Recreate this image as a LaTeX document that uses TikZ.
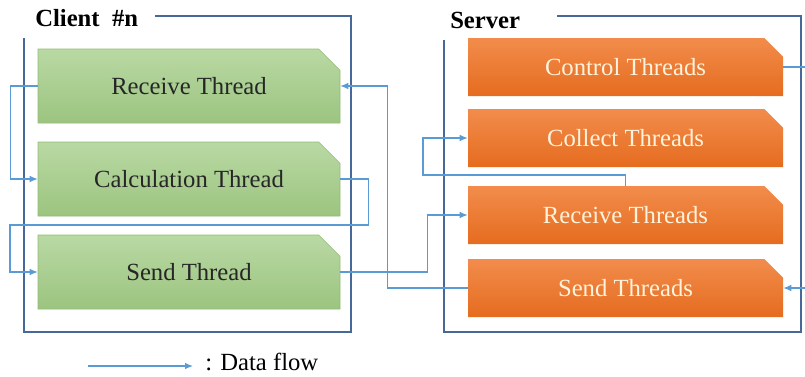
\documentclass[tikz,border=0pt]{standalone}
\usepackage{fontspec}
\setmainfont{Liberation Serif}
\usetikzlibrary{shapes.misc,arrows.meta}
\definecolor{frameblue}{HTML}{46699A}
\definecolor{flowblue}{HTML}{5B9BD5}
\definecolor{gtop}{HTML}{B9D9A4}
\definecolor{gbot}{HTML}{9CC47F}
\definecolor{gedge}{HTML}{93BC78}
\definecolor{otop}{HTML}{F28C4C}
\definecolor{obot}{HTML}{E56C1F}
\definecolor{otext}{HTML}{FFF3DC}
\tikzset{
  gbox/.style={chamfered rectangle, chamfered rectangle corners=north east,
    chamfered rectangle xsep=9.5pt, chamfered rectangle ysep=9.5pt,
    minimum width=226.5pt, minimum height=55.5pt, inner sep=0pt,
    top color=gtop, bottom color=gbot, draw=gedge, line width=0.4pt,
    font=\fontsize{18.5}{22}\selectfont, text=black!85},
  obox/.style={chamfered rectangle, chamfered rectangle corners=north east,
    chamfered rectangle xsep=7.5pt, chamfered rectangle ysep=7.5pt,
    minimum width=236.25pt, minimum height=43.5pt, inner sep=0pt,
    top color=otop, bottom color=obot, draw=none,
    font=\fontsize{18.5}{22}\selectfont, text=otext},
  frame/.style={draw=frameblue, line width=1.5pt},
  flow/.style={draw=flowblue, line width=0.9pt, -{Latex[length=6pt,width=5pt]}},
  title/.style={font=\fontsize{18.5}{22}\selectfont\bfseries, anchor=base west, inner sep=0pt}
}
\begin{document}
\begin{tikzpicture}[x=0.75pt,y=-0.75pt]
\useasboundingbox (0,0) rectangle (805,376);
\clip (0,0) rectangle (805,376);
% frames
\draw[frame] (155,16) -- (351,16) -- (351,332) -- (24,332) -- (24,38);
\draw[frame] (557,16) -- (801,16) -- (801,332) -- (444,332) -- (444,40);
\node[title] (ctitle) at (35,26) {Client\ \ \#n};
\node[title] (stitle) at (450,28) {Server};
% client nodes
\node[gbox] (rt) at (189,86) {Receive Thread};
\node[gbox] (ct) at (189,179) {Calculation Thread};
\node[gbox] (st) at (189,272) {Send Thread};
% server nodes
\node[obox] (ctl) at (625.5,67) {Control Threads};
\node[obox] (cst) at (625.5,138) {Collect Threads};
\node[obox] (srt) at (625.5,215) {Receive Threads};
\node[obox] (sst) at (625.5,288) {Send Threads};
% flows
\draw[flow] (rt.west) -- ++(-27,0) |- (ct.west);
\draw[flow] (ct.east) -- ++(28,0) |- (10,225) |- (st.west);
\draw[flow] (st.east) -- ++(87,0) |- (srt.west);
\draw[flow] (sst.west) -- ++(-80,0) |- (rt.east);
\draw[flow] (srt.north) |- (423,175) |- (cst.west);
\coordinate (edge) at (812,67);
\draw[flow] (ctl.east) -- (edge) |- (sst.east);
% legend
\coordinate (l1) at (88,366);
\coordinate (l2) at (193,366);
\draw[flow] (l1) -- (l2);
\node[anchor=base west, inner sep=0pt, font=\fontsize{18.5}{22}\selectfont] (leg) at (205,370) {: Data flow};
\end{tikzpicture}
\end{document}
